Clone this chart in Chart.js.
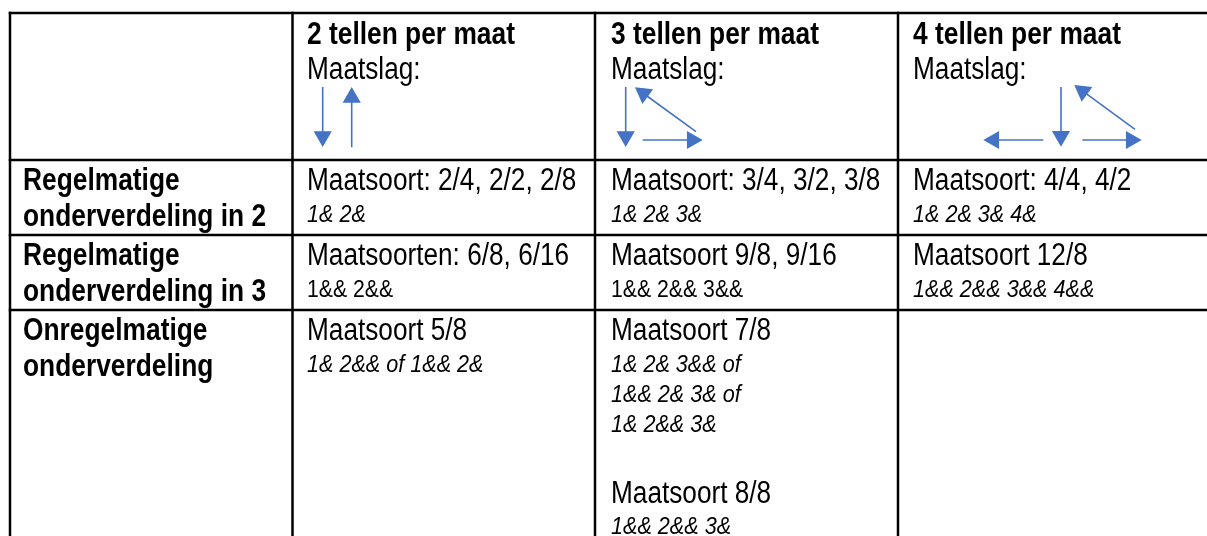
<!DOCTYPE html>
<html>
<head>
  <meta charset="UTF-8">
  <title>Maatsoorten en maatslag</title>
  <script src="https://cdn.jsdelivr.net/npm/chart.js"></script>
  <style>
    html, body { margin: 0; padding: 0; background: #fff; }
    .wrap { width: 1207px; height: 536px; position: relative; }
  </style>
</head>
<body>
  <div class="wrap">
    <canvas id="tabel"></canvas>
  </div>

  <script>
    // Kolomkoppen
    var columnHeaders = ["2 tellen per maat", "3 tellen per maat", "4 tellen per maat"];
    var headerSub = "Maatslag:";

    // Rijlabels (twee regels per rij)
    var rowLabels = [
      ["Regelmatige", "onderverdeling in 2"],
      ["Regelmatige", "onderverdeling in 3"],
      ["Onregelmatige", "onderverdeling"]
    ];

    // Celinhoud: m = maatsoort, i = telling cursief, c = telling recht, "" = lege regel
    var cellsRow1 = [
      [["m", "Maatsoort: 2/4, 2/2, 2/8"], ["i", "1& 2&"]],
      [["m", "Maatsoort: 3/4, 3/2, 3/8"], ["i", "1& 2& 3&"]],
      [["m", "Maatsoort: 4/4, 4/2"], ["i", "1& 2& 3& 4&"]]
    ];
    var cellsRow2 = [
      [["m", "Maatsoorten: 6/8, 6/16"], ["c", "1&& 2&&"]],
      [["m", "Maatsoort 9/8, 9/16"], ["c", "1&& 2&& 3&&"]],
      [["m", "Maatsoort 12/8"], ["i", "1&& 2&& 3&& 4&&"]]
    ];
    var cellsRow3 = [
      [["m", "Maatsoort 5/8"], ["i", "1& 2&& of 1&& 2&"]],
      [["m", "Maatsoort 7/8"], ["i", "1& 2& 3&& of"], ["i", "1&& 2& 3& of"], ["i", "1& 2&& 3&"],
       ["", ""], ["m", "Maatsoort 8/8"], ["i", "1&& 2&& 3&"]],
      []
    ];

    // Maatslag-pijlen per kolom: [van x, van y, naar x, naar y]
    var beat2 = [[322.7, 87, 322.7, 147], [351.7, 147.3, 351.7, 87]];
    var beat3 = [[625.7, 87, 625.7, 147], [642.7, 140, 702.7, 140], [696, 131.7, 635, 87.3]];
    var beat4 = [[1061, 87, 1061, 146.7], [1043.3, 140, 983.3, 140], [1082.3, 140, 1141.7, 140], [1135, 129.3, 1074.3, 85]];

    // Tabelranden
    var colEdges = [10, 292.5, 595, 898];
    var rowEdges = [13, 160, 235, 310];
    var textPad = [13, 14.5, 16, 15];

    var W = 1207, H = 536;
    var lineColor = "#000000";
    var arrowColor = "#4472C4";
    var headR = 10.5;

    var datasets = [];

    // horizontale lijnen
    rowEdges.forEach(function (y) {
      datasets.push({
        data: [{ x: colEdges[0] - 1.25, y: y }, { x: W + 5, y: y }],
        showLine: true, borderColor: lineColor, borderWidth: 2.5, pointRadius: 0
      });
    });
    // verticale lijnen
    colEdges.forEach(function (x) {
      datasets.push({
        data: [{ x: x, y: rowEdges[0] - 1.25 }, { x: x, y: H + 5 }],
        showLine: true, borderColor: lineColor, borderWidth: 2.5, pointRadius: 0
      });
    });

    // pijlen: lijn + driehoekige punt
    [beat2, beat3, beat4].forEach(function (arrows) {
      arrows.forEach(function (a) {
        var dx = a[2] - a[0], dy = a[3] - a[1];
        var len = Math.sqrt(dx * dx + dy * dy);
        var ux = dx / len, uy = dy / len;
        var rot = Math.atan2(dx, -dy) * 180 / Math.PI;
        datasets.push({
          data: [{ x: a[0], y: a[1] }, { x: a[2] - ux * headR, y: a[3] - uy * headR }],
          showLine: true,
          borderColor: arrowColor,
          backgroundColor: arrowColor,
          borderWidth: 1.6,
          pointStyle: "triangle",
          pointRadius: [0, headR],
          pointBorderWidth: 0,
          rotation: [0, rot]
        });
      });
    });

    var FONT = "'Liberation Sans', Arial, sans-serif";
    var styles = {
      b: { font: "bold 31px " + FONT, sx: 0.85 },
      m: { font: "31px " + FONT, sx: 0.845 },
      i: { font: "italic 24px " + FONT, sx: 0.9 },
      c: { font: "24px " + FONT, sx: 0.885 }
    };

    function drawText(ctx, kind, text, px, py) {
      var s = styles[kind];
      ctx.save();
      ctx.translate(px, py);
      ctx.scale(s.sx, 1);
      ctx.font = s.font;
      ctx.fillStyle = "#000";
      ctx.textBaseline = "alphabetic";
      ctx.textAlign = "left";
      ctx.fillText(text, 0, 0);
      ctx.restore();
    }

    var textPlugin = {
      id: "tableText",
      afterDatasetsDraw: function (chart) {
        var ctx = chart.ctx;
        var xs = chart.scales.x, ys = chart.scales.y;

        // koppen
        columnHeaders.forEach(function (h, c) {
          var x0 = colEdges[c + 1] + textPad[c + 1];
          drawText(ctx, "b", h, xs.getPixelForValue(x0), ys.getPixelForValue(rowEdges[0] + 31));
          drawText(ctx, "m", headerSub, xs.getPixelForValue(x0), ys.getPixelForValue(rowEdges[0] + 66));
        });

        // rijlabels
        rowLabels.forEach(function (lines, r) {
          var top = rowEdges[r + 1];
          lines.forEach(function (t, k) {
            drawText(ctx, "b", t, xs.getPixelForValue(colEdges[0] + textPad[0]), ys.getPixelForValue(top + 30 + k * 36));
          });
        });

        // cellen
        [cellsRow1, cellsRow2, cellsRow3].forEach(function (row, r) {
          var top = rowEdges[r + 1];
          row.forEach(function (cell, c) {
            var x0 = colEdges[c + 1] + textPad[c + 1];
            var y = top + 30;
            var prev = null;
            cell.forEach(function (ln) {
              if (prev !== null) {
                if (ln[0] === "") { y += 30; }
                else if (prev === "m") { y += 31.5; }
                else if (prev === "") { y += 41; }
                else { y += 30; }
              }
              if (ln[0] !== "") {
                drawText(ctx, ln[0], ln[1], xs.getPixelForValue(x0), ys.getPixelForValue(y));
              }
              prev = ln[0];
            });
          });
        });
      }
    };

    var ctx = document.getElementById("tabel").getContext("2d");
    var chart = new Chart(ctx, {
      type: "scatter",
      data: { datasets: datasets },
      options: {
        responsive: true,
        maintainAspectRatio: false,
        animation: false,
        events: [],
        layout: { padding: 0, autoPadding: false },
        plugins: { legend: { display: false }, tooltip: { enabled: false } },
        scales: {
          x: { type: "linear", min: 0, max: W, display: false },
          y: { type: "linear", min: 0, max: H, reverse: true, display: false }
        }
      },
      plugins: [textPlugin]
    });
  </script>
</body>
</html>
